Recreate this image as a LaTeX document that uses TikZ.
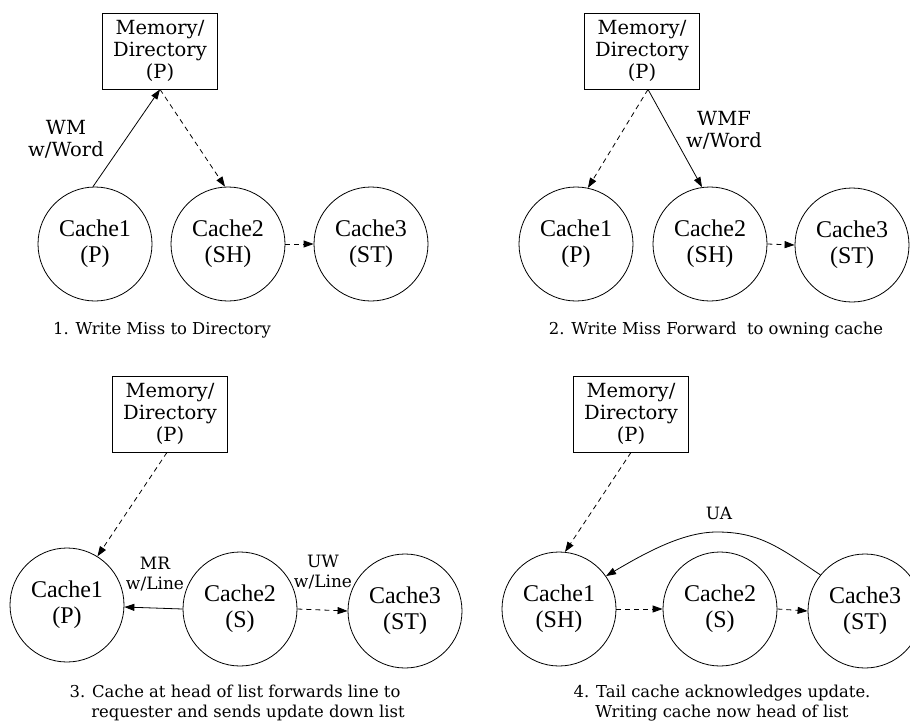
\documentclass[tikz,border=0pt]{standalone}
\usepackage{fontspec}
\setmainfont{Liberation Serif}
\newfontfamily\labelfont{DejaVu Serif}
\usetikzlibrary{arrows.meta}

\begin{document}
\begin{tikzpicture}[x=1pt,y=-1pt,
  cachenode/.style={circle,draw,line width=0.8pt,minimum size=114pt,inner sep=0pt,
    align=center,font=\fontsize{24}{26}\selectfont},
  dirnode/.style={draw,line width=0.8pt,minimum width=115pt,minimum height=76pt,
    inner sep=0pt,align=center,font=\labelfont\fontsize{19.5}{22}\selectfont},
  msg/.style={align=center,inner sep=0pt,font=\labelfont\fontsize{19.5}{22}\selectfont},
  msgsmall/.style={msg,font=\labelfont\fontsize{17}{20}\selectfont},
  caption/.style={align=center,inner sep=0pt,font=\labelfont\fontsize{16.4}{20}\selectfont},
  solidarrow/.style={line width=0.8pt,-{Triangle[length=10pt,width=7pt]}},
  dashedarrow/.style={solidarrow,dash pattern=on 5pt off 4pt},
]
\useasboundingbox (0,0) rectangle (910,723);

% ---------- 1. Write miss to directory ----------
\node[dirnode] (m1) at (160,51) {Memory/\\Directory\\(P)};
\node[cachenode] (a1) at (95,244) {Cache1\\(P)};
\node[cachenode] (b1) at (228,244) {Cache2\\(SH)};
\node[cachenode] (c1) at (371,244) {Cache3\\(ST)};
\draw[solidarrow] (a1.92) -- (m1.south);
\draw[dashedarrow] (m1.south) -- (b1.93);
\draw[dashedarrow] (b1.east) -- (c1.west);
\node[msg] (l1) at (66,139) {WM\\w/Word};
\node[caption] (t1) at (162,330) {1. Write Miss to Directory};

% ---------- 2. Write miss forward ----------
\node[dirnode] (m2) at (642,51) {Memory/\\Directory\\(P)};
\node[cachenode] (a2) at (576,244) {Cache1\\(P)};
\node[cachenode] (b2) at (710,244) {Cache2\\(SH)};
\node[cachenode] (c2) at (852,245) {Cache3\\(ST)};
\coordinate (s2) at ([xshift=6pt]m2.south);
\draw[dashedarrow] (s2) -- (a2.78);
\draw[solidarrow] (s2) -- (b2.98);
\draw[dashedarrow] (b2.east) -- (c2.west);
\node[msg] (l2) at (724,130) {WMF\\w/Word};
\node[caption] (t2) at (716,330) {2. Write Miss Forward\ \ to owning cache};

% ---------- 3. Head forwards line, sends update ----------
\node[dirnode] (m3) at (170,414) {Memory/\\Directory\\(P)};
\node[cachenode] (a3) at (67,605) {Cache1\\(P)};
\node[cachenode] (b3) at (240,609) {Cache2\\(S)};
\node[cachenode] (c3) at (405,611) {Cache3\\(ST)};
\draw[dashedarrow] ([xshift=-3pt]m3.south) -- (a3.58);
\draw[solidarrow] (b3.west) -- (a3.-2);
\draw[dashedarrow] (b3.east) -- (c3.west);
\node[msgsmall] (l3) at (155,574) {MR\\w/Line};
\node[msgsmall] (l4) at (323,572) {UW\\w/Line};
\node[caption] (t3) at (235,703) {3. Cache at head of list forwards line to\\\hspace*{26pt}requester and sends update down list};

% ---------- 4. Tail acknowledges update ----------
\node[dirnode] (m4) at (631,414) {Memory/\\Directory\\(P)};
\node[cachenode] (a4) at (559,609) {Cache1\\(SH)};
\node[cachenode] (b4) at (720,609) {Cache2\\(S)};
\node[cachenode] (c4) at (865,611) {Cache3\\(ST)};
\draw[dashedarrow] (m4.south) -- (a4.84);
\draw[dashedarrow] (a4.east) -- (b4.west);
\draw[dashedarrow] (b4.east) -- (c4.west);
\draw[solidarrow] (c4.141) .. controls (780,548) and (760,532) .. (717,532)
  .. controls (685,532) and (650,550) .. (a4.35);
\node[msgsmall] (l5) at (719,513) {UA};
\node[caption] (t4) at (722,703) {4. Tail cache acknowledges update.\\Writing cache now head of list};
\end{tikzpicture}
\end{document}
